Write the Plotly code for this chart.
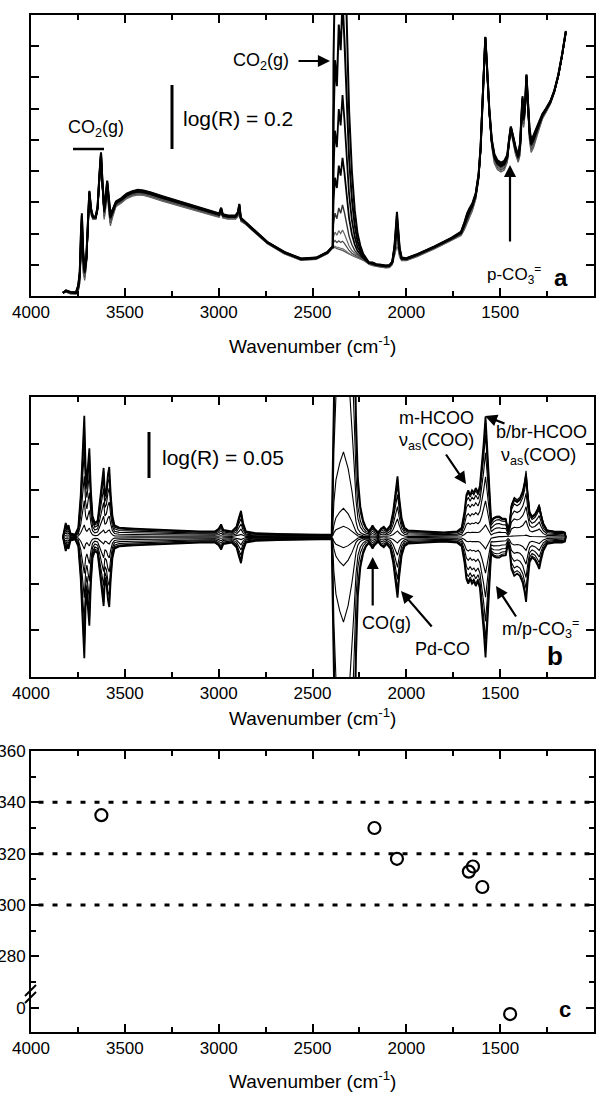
import plotly.graph_objects as go

# ---------------- data: panel a (reflectance spectra, log(R) in units of 0.1) ----------------
wn_a = [3830, 3813, 3790, 3760, 3748, 3740, 3734, 3729, 3722, 3714, 3705, 3697, 3689, 3680, 3670,
        3655, 3645, 3635, 3627, 3620, 3610, 3602, 3594, 3585, 3577, 3565, 3547, 3520, 3490, 3460,
        3430, 3400, 3361, 3300, 3183, 3100, 3020, 2997, 2987, 2978, 2950, 2910, 2897, 2890, 2882,
        2860, 2820, 2740, 2650, 2561, 2480, 2420, 2395, 2392, 2388, 2380, 2370, 2360, 2350, 2340,
        2330, 2318, 2305, 2290, 2275, 2260, 2245, 2230, 2215, 2200, 2180, 2160, 2135, 2110, 2090,
        2075, 2063, 2056, 2050, 2044, 2036, 2025, 2000, 1939, 1850, 1760, 1708, 1690, 1676, 1664,
        1648, 1630, 1615, 1604, 1594, 1586, 1579, 1572, 1565, 1558, 1545, 1531, 1515, 1496, 1478,
        1462, 1452, 1443, 1432, 1418, 1404, 1394, 1386, 1381, 1375, 1367, 1360, 1352, 1344, 1335,
        1322, 1305, 1290, 1275, 1255, 1232, 1211, 1190, 1170, 1150]
base_a = [0.10, 0.15, 0.10, 0.09, 0.25, 0.60, 1.60, 2.30, 1.10, 0.70, 1.10, 2.10, 3.25, 2.70, 2.50,
          2.50, 2.80, 3.80, 4.50, 3.60, 2.65, 3.00, 3.55, 2.90, 2.45, 2.65, 2.95, 3.05, 3.20, 3.28,
          3.32, 3.30, 3.24, 3.12, 2.92, 2.77, 2.62, 2.58, 2.75, 2.56, 2.52, 2.52, 2.62, 2.85, 2.45,
          2.35, 2.12, 1.70, 1.38, 1.17, 1.20, 1.38, 1.55, 1.55, 1.55, 1.53, 1.50, 1.47, 1.45, 1.42,
          1.40, 1.37, 1.34, 1.31, 1.28, 1.25, 1.22, 1.18, 1.12, 1.05, 1.02, 0.98, 0.96, 0.94, 0.95,
          1.05, 1.45, 1.90, 2.15, 1.85, 1.40, 1.18, 1.17, 1.31, 1.55, 1.82, 2.00, 2.25, 2.50, 2.65,
          2.85, 3.20, 3.80, 4.70, 6.20, 7.40, 8.25, 7.50, 6.60, 5.90, 4.90, 4.40, 4.20, 4.12, 4.18,
          4.40, 4.95, 5.35, 5.05, 4.65, 4.40, 4.70, 5.60, 6.20, 5.60, 6.00, 7.00, 6.20, 5.20, 4.80,
          4.95, 5.25, 5.50, 5.75, 5.95, 6.20, 6.55, 7.05, 7.70, 8.45]
spread_a = [0.00, 0.03, 0.03, 0.03, 0.10, 0.20, 0.40, 0.35, 0.35, 0.20, 0.15, 0.20, 0.12, 0.10, 0.05,
            0.05, 0.08, 0.12, 0.10, 0.15, 0.20, 0.20, 0.15, 0.25, 0.20, 0.12, 0.08, 0.08, 0.08, 0.08,
            0.08, 0.08, 0.08, 0.08, 0.07, 0.06, 0.06, 0.06, 0.08, 0.06, 0.06, 0.06, 0.08, 0.10, 0.06,
            0.04, 0.03, 0.03, 0.03, 0.03, 0.03, 0.03, 0.03, 0.03, 0.03, 0.03, 0.03, 0.03, 0.03, 0.03,
            0.03, 0.03, 0.03, 0.03, 0.03, 0.03, 0.03, 0.03, 0.03, 0.03, 0.05, 0.04, 0.04, 0.04, 0.04,
            0.05, 0.15, 0.35, 0.55, 0.35, 0.15, 0.05, 0.04, 0.04, 0.04, 0.04, 0.06, 0.12, 0.15, 0.15,
            0.12, 0.10, 0.10, 0.10, 0.10, 0.08, 0.05, 0.08, 0.10, 0.10, 0.12, 0.15, 0.15, 0.15, 0.15,
            0.12, 0.10, 0.08, 0.10, 0.12, 0.12, 0.20, 0.25, 0.20, 0.20, 0.15, 0.10, 0.15, 0.20, 0.20,
            0.20, 0.15, 0.12, 0.08, 0.06, 0.05, 0.04, 0.04, 0.04, 0.04]
co2_a = [0] * 53 + [0.0, 0.50, 0.75, 0.65, 0.90, 0.80, 1.00, 0.85, 0.60, 0.38, 0.22, 0.12, 0.06,
                    0.03, 0.012, 0.004] + [0] * 61
shift_a = [-1.0, -0.75, -0.5, -0.25, 0.0, 0.25, 0.5, 0.75, 1.0]
co2_scale_a = [0.07, 0.12, 0.35, 0.7, 1.5, 3.0, 5.0, 8.0, 12.0]
colors_a = ['#555555', '#777777', '#444444', '#666666', '#333333', '#000000', '#000000', '#000000', '#000000']
widths_a = [1.2, 1.2, 1.2, 1.2, 1.4, 1.8, 1.8, 2.0, 2.0]
UNIT_A = 0.1  # log(R) per tick

# ---------------- data: panel b (difference spectra, log(R) in units of 0.05) ----------------
wn_b = [3830, 3822, 3815, 3808, 3800, 3790, 3765, 3748, 3735, 3725, 3716, 3709, 3702, 3695, 3689,
        3681, 3672, 3660, 3645, 3632, 3620, 3613, 3606, 3598, 3590, 3583, 3575, 3566, 3555, 3530,
        3450, 3350, 3250, 3100, 3020, 3000, 2987, 2975, 2930, 2905, 2893, 2881, 2870, 2855, 2800,
        2650, 2450, 2398, 2392, 2386, 2375, 2355, 2335, 2310, 2290, 2278, 2268, 2258, 2245, 2230,
        2215, 2200, 2190, 2180, 2170, 2150, 2135, 2120, 2105, 2085, 2070, 2058, 2047, 2038, 2025,
        2010, 1990, 1900, 1800, 1730, 1705, 1690, 1680, 1670, 1660, 1650, 1640, 1630, 1618, 1608,
        1598, 1588, 1578, 1570, 1562, 1553, 1548, 1535, 1520, 1505, 1490, 1470, 1458, 1450, 1440,
        1425, 1410, 1395, 1380, 1370, 1362, 1354, 1343, 1330, 1315, 1302, 1292, 1282, 1270, 1250,
        1210, 1170, 1155, 1150]
# OH / formate / CO bands
env_b = [0.00, 0.15, 0.30, 0.20, 0.25, 0.08, 0.05, 0.20, 0.90, 1.80, 2.60, 1.50, 1.20, 1.60, 1.90,
         1.00, 0.45, 0.30, 0.35, 0.80, 1.30, 1.48, 0.90, 1.00, 1.35, 1.50, 0.90, 0.45, 0.25, 0.20,
         0.18, 0.16, 0.14, 0.12, 0.12, 0.18, 0.27, 0.15, 0.12, 0.22, 0.40, 0.56, 0.30, 0.12, 0.08,
         0.06, 0.05, 0.05, 0.05, 0.05, 0.05, 0.05, 0.05, 0.05, 0.05, 0.05, 0.05, 0.05, 0.05, 0.05,
         0.05, 0.08, 0.18, 0.25, 0.18, 0.10, 0.18, 0.22, 0.15, 0.25, 0.55, 1.00, 1.30, 0.85, 0.40,
         0.20, 0.14, 0.12, 0.10, 0.12, 0.20, 0.55, 0.90, 1.00, 0.90, 1.00, 0.95, 1.05, 0.95, 1.10,
         1.50, 2.00, 2.58, 2.00, 1.30, 0.70, 0.30, 0.20, 0.10, 0.05, 0.03, 0.02, 0.02, 0.02, 0.02,
         0.02, 0.02, 0.02, 0.02, 0.02, 0.02, 0.02, 0.02, 0.02, 0.02, 0.02, 0.02, 0.02, 0.02, 0.02,
         0.02, 0.02, 0.02, 0.00]
# carbonate bands (slightly different phase)
carb_b = [0.0] * 96 + [0.05, 0.22, 0.35, 0.40, 0.38, 0.38, 0.13, 0.28, 0.68,
                       0.83, 0.78, 0.83, 0.98, 1.18, 1.40, 0.98, 0.53, 0.43, 0.48, 0.58, 0.68, 0.48, 0.28, 0.13,
                       0.10, 0.10, 0.08, 0.00]
# gas-phase CO2 (saturated in the spectra)
co2_b = [0] * 48 + [1.5, 6, 10, 13, 15, 12, 8, 5, 2.5, 1.2, 0.6, 0.3, 0.15, 0.05] + [0] * 62
scale_b = [1.0, 0.95, 0.85, 0.7, 0.5, 0.3, 0.1, -0.1, -0.3, -0.5, -0.7, -0.85, -0.95, -1.0]
scale_carb_b = [0.93, 1.0, 0.96, 0.84, 0.66, 0.46, 0.25, 0.03, -0.2, -0.41, -0.61, -0.78, -0.9, -0.98]
co2_scale_b = [1.0, 0.8, 0.5, 0.3, 0.12, 0.04, 0.015, -0.015, -0.04, -0.12, -0.3, -0.5, -0.8, -1.0]
UNIT_B = 0.05

# ---------------- data: panel c (phase angles) ----------------
wn_c = [3625, 2170, 2050, 1645, 1667, 1595, 1447]
phase_c = [335, 330, 318, 315, 313, 307, -2.5]
BREAK_OFFSET = 260          # "0" on the broken axis sits where 260 would be
ref_lines_c = [300, 320, 340]
c_tickvals = [260, 280, 300, 320, 340, 360]
c_ticktext = ['0', '280', '300', '320', '340', '360']
c_minor = [270, 290, 310, 330, 350]
x_tick_labels = ['4000', '3500', '3000', '2500', '2000', '1500', '1000']

W, H = 612, 1095
FONT = 'Liberation Sans, Arial, sans-serif'


def px(x):
    return x / W


def py(y):
    return 1 - y / H


fig = go.Figure()

for s, c, col, lw in zip(shift_a, co2_scale_a, colors_a, widths_a):
    y = [(b + s * sp + c * co) * UNIT_A for b, sp, co in zip(base_a, spread_a, co2_a)]
    fig.add_trace(go.Scatter(x=wn_a, y=y, mode='lines', xaxis='x', yaxis='y',
                             line=dict(color=col, width=lw), showlegend=False, hoverinfo='skip'))

for s, sc, c in zip(scale_b, scale_carb_b, co2_scale_b):
    y = [(s * e + sc * cb + c * co) * UNIT_B for e, cb, co in zip(env_b, carb_b, co2_b)]
    w = 1.8 if abs(s) == 1.0 else 1.1
    fig.add_trace(go.Scatter(x=wn_b, y=y, mode='lines', xaxis='x2', yaxis='y2',
                             line=dict(color='black', width=w), showlegend=False, hoverinfo='skip'))

y_c = [p if p > 100 else p + BREAK_OFFSET for p in phase_c]
fig.add_trace(go.Scatter(x=wn_c, y=y_c, mode='markers', xaxis='x3', yaxis='y3',
                         marker=dict(symbol='circle-open', size=12, color='black', line=dict(width=2.2)),
                         showlegend=False, hoverinfo='skip'))

xdom = [px(31), px(594)]
common_x = dict(range=[4000, 1000], tickmode='array', tickvals=[4000, 3500, 3000, 2500, 2000, 1500, 1000],
                ticktext=x_tick_labels, ticks='inside', ticklen=8, tickwidth=1.5, tickcolor='black',
                minor=dict(tickmode='array', tickvals=[3750, 3250, 2750, 2250, 1750, 1250],
                           ticks='inside', ticklen=5, tickwidth=1.5, tickcolor='black'),
                showline=True, linewidth=2, linecolor='black', mirror='ticks', showgrid=False,
                zeroline=False, tickfont=dict(family=FONT, size=17, color='black'), automargin=False,
                domain=xdom)
common_y = dict(ticks='inside', ticklen=8, tickwidth=1.5, tickcolor='black', showline=True,
                linewidth=2, linecolor='black', mirror='ticks', showgrid=False, zeroline=False,
                automargin=False)

fig.update_layout(
    width=W, height=H, margin=dict(l=0, r=0, t=0, b=0),
    paper_bgcolor='white', plot_bgcolor='white', showlegend=False,
    xaxis=dict(anchor='y', **common_x),
    yaxis=dict(anchor='x', domain=[py(296), py(15)], range=[0, 0.9], tickmode='linear', tick0=0,
               dtick=0.1, showticklabels=False, **common_y),
    xaxis2=dict(anchor='y2', **common_x),
    yaxis2=dict(anchor='x2', domain=[py(677), py(397)], range=[-0.15, 0.15], tickmode='linear',
                tick0=0, dtick=0.05, showticklabels=False, **common_y),
    xaxis3=dict(anchor='y3', **common_x),
    yaxis3=dict(anchor='x3', domain=[py(1032), py(751)], range=[250.5, 360], tickmode='array',
                tickvals=c_tickvals, ticktext=c_ticktext,
                minor=dict(tickmode='array', tickvals=c_minor, ticks='inside', ticklen=5,
                           tickwidth=1.5, tickcolor='black'),
                tickfont=dict(family=FONT, size=17, color='black'), **common_y),
)

shapes = []
for v in ref_lines_c:
    shapes.append(dict(type='line', xref='x3', yref='y3', x0=3960, x1=1000, y0=v, y1=v,
                       line=dict(color='black', width=3, dash='5px,9px')))
# axis-break marks on panel c
for dy in (0, 7):
    shapes.append(dict(type='line', xref='paper', yref='paper', x0=px(25), y0=py(996 + dy),
                       x1=px(36), y1=py(985 + dy), line=dict(color='black', width=2)))
# scale bars and CO2 bracket
shapes.append(dict(type='line', xref='paper', yref='paper', x0=px(172), x1=px(172), y0=py(85), y1=py(149),
                   line=dict(color='black', width=3)))
shapes.append(dict(type='line', xref='paper', yref='paper', x0=px(73), x1=px(104), y0=py(149), y1=py(149),
                   line=dict(color='black', width=2.5)))
shapes.append(dict(type='line', xref='paper', yref='paper', x0=px(149), x1=px(149), y0=py(432), y1=py(478),
                   line=dict(color='black', width=3)))
fig.update_layout(shapes=shapes)


def text(t, x, y, size=18, anchor='center', bold=False):
    if bold:
        t = '<b>' + t + '</b>'
    return dict(text=t, x=px(x), y=py(y), xref='paper', yref='paper', showarrow=False,
                xanchor=anchor, yanchor='middle', font=dict(family=FONT, size=size, color='black'))


def arrow(hx, hy, tx, ty):
    return dict(text='', x=px(hx), y=py(hy), xref='paper', yref='paper', ax=tx - hx, ay=ty - hy,
                axref='pixel', ayref='pixel', showarrow=True, arrowhead=2, arrowsize=1.1,
                arrowwidth=2.2, arrowcolor='black')


title = 'Wavenumber (cm<sup>-1</sup>)'
ann = [
    text('CO<sub>2</sub>(g)', 96, 128),
    text('log(R) = 0.2', 181, 118, size=21, anchor='left'),
    text('CO<sub>2</sub>(g)', 261, 61),
    arrow(330, 61, 297, 61),
    text('p-CO<sub>3</sub><sup>=</sup>', 514, 274, size=17),
    arrow(510, 165, 510, 243),
    text('a', 561, 277, size=24, bold=True),
    text(title, 312, 345, size=19),
    text('log(R) = 0.05', 160, 457, size=21, anchor='left'),
    text('CO(g)', 386, 623),
    arrow(372.7, 557, 372.7, 607),
    text('Pd-CO', 442, 649),
    arrow(401, 591, 433, 628),
    text('m-HCOO', 436, 418),
    text('\u03bd<sub>as</sub>(COO)', 436, 441),
    arrow(466, 484, 445, 453),
    text('b/br-HCOO', 541, 432),
    text('\u03bd<sub>as</sub>(COO)', 538, 456),
    arrow(485, 416, 506, 424),
    text('m/p-CO<sub>3</sub><sup>=</sup>', 540, 628),
    arrow(496, 586, 517, 618),
    text('b', 555, 656, size=26, bold=True),
    text(title, 312, 717, size=19),
    text('c', 565, 1009, size=22, bold=True),
    text(title, 312, 1080, size=19),
]
fig.update_layout(annotations=ann)

fig.write_html('out.html')
